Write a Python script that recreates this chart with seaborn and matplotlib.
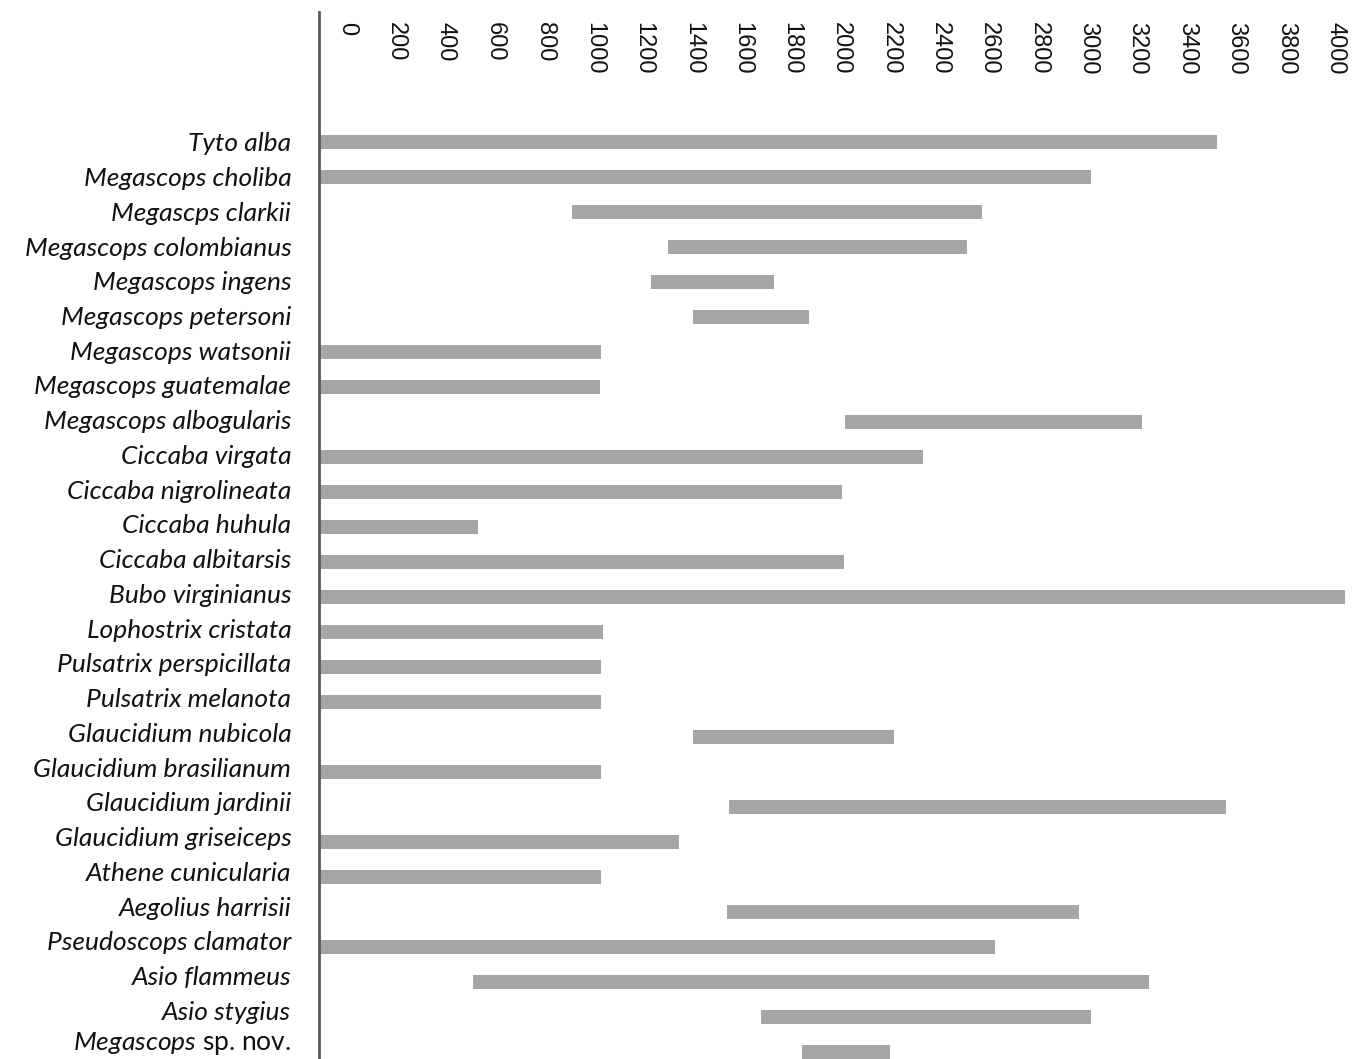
import numpy as np
import pandas as pd
import matplotlib
matplotlib.use("Agg")
import matplotlib.pyplot as plt
import matplotlib.transforms as mtransforms
import seaborn as sns

# Elevation ranges (m) per owl species
species = [
    "Tyto alba", "Megascops choliba", "Megascps clarkii", "Megascops colombianus",
    "Megascops ingens", "Megascops petersoni", "Megascops watsonii",
    "Megascops guatemalae", "Megascops albogularis", "Ciccaba virgata",
    "Ciccaba nigrolineata", "Ciccaba huhula", "Ciccaba albitarsis",
    "Bubo virginianus", "Lophostrix cristata", "Pulsatrix perspicillata",
    "Pulsatrix melanota", "Glaucidium nubicola", "Glaucidium brasilianum",
    "Glaucidium jardinii", "Glaucidium griseiceps", "Athene cunicularia",
    "Aegolius harrisii", "Pseudoscops clamator", "Asio flammeus",
    "Asio stygius", "Megascops sp. nov.",
]
low = [0, 0, 910, 1300, 1230, 1400, 0, 0, 2015, 0, 0, 0, 0, 0, 0, 0, 0,
       1400, 0, 1545, 0, 0, 1540, 0, 510, 1675, 1840]
high = [3520, 3010, 2570, 2510, 1730, 1870, 1030, 1025, 3220, 2330, 2005, 530,
        2010, 4040, 1035, 1030, 1030, 2215, 1030, 3560, 1345, 1030, 2965, 2625,
        3245, 3010, 2200]
ticks = list(range(0, 4001, 200))

BAR_COLOR = "#a6a6a6"
X_MIN, X_MAX = -113, 4060

sns.set_theme(style="white")
plt.rcParams["font.family"] = ["Liberation Sans", "DejaVu Sans"]
plt.rcParams["mathtext.fontset"] = "custom"
plt.rcParams["mathtext.rm"] = "Lato"
plt.rcParams["mathtext.it"] = "Lato:italic"

df = pd.DataFrame({"species": species, "low": low, "high": high})
# lowland species start at the axis line, as in the original chart
df["start"] = np.where(df["low"] == 0, X_MIN, df["low"])
df["span"] = df["high"] - df["start"]

fig = plt.figure(figsize=(13.53, 10.59), dpi=100)
ax = fig.add_axes([0.2358, 0.0, 0.762, 0.9887])

sns.barplot(data=df, x="span", y="species", order=species, orient="y",
            color=BAR_COLOR, saturation=1, width=0.41, errorbar=None,
            linewidth=0, left=df["start"].to_numpy(), ax=ax)

ax.set_xlim(X_MIN, X_MAX)
ax.set_ylim(26.2, -3.71)
ax.set_xlabel("")
ax.set_ylabel("")

# x axis labels on top, rotated, inside the plot area
ax.xaxis.tick_top()
ax.set_xticks(ticks)
ax.set_xticklabels([str(t) for t in ticks])
ax.tick_params(axis="x", length=0, pad=-7, labelsize=17, labelcolor="#111111")
plt.setp(ax.get_xticklabels(), rotation=-90, va="top", ha="center")

# species names in italics, except "sp. nov."
ylabels = species[:-1] + [r"$\mathit{Megascops}$ sp. nov."]
ax.set_yticks(range(len(species)))
ax.set_yticklabels(ylabels, fontfamily="Lato", fontsize=19, color="#111111")
ax.tick_params(axis="y", length=0, pad=20)
n = len(species)
for i, lab in enumerate(ax.get_yticklabels()):
    if i < n - 1:
        lab.set_style("italic")
    # the names creep up slightly relative to the bars further down
    dy = 0.0027 * i + (0.05 if i == n - 1 else 0)
    shift = mtransforms.ScaledTranslation(0, dy, fig.dpi_scale_trans)
    lab.set_transform(lab.get_transform() + shift)

for side in ["top", "right", "bottom"]:
    ax.spines[side].set_visible(False)
ax.spines["left"].set_color("#595959")
ax.spines["left"].set_linewidth(2)

fig.savefig("out.png", dpi=100)
